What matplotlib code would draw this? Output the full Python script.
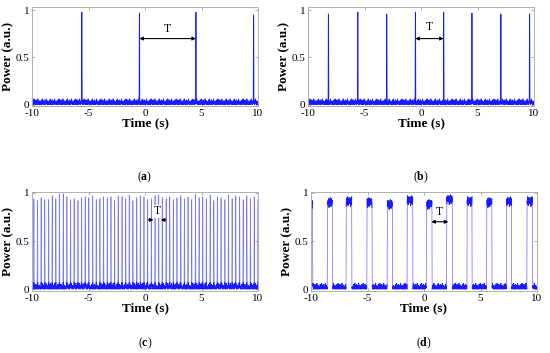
import numpy as np
import matplotlib.pyplot as plt

plt.rcParams['font.family'] = ['Liberation Serif', 'DejaVu Serif']
plt.rcParams['mathtext.fontset'] = 'custom'
plt.rcParams['mathtext.rm'] = 'Liberation Serif'
plt.rcParams['mathtext.bf'] = 'Liberation Serif:bold'
plt.rcParams['axes.unicode_minus'] = False

# time base of the recorded traces
t = np.arange(-10, 10.0001, 0.02)

# baseline noise (a.u.), repeated along the trace
floor_noise = [0.01, 0.03, 0.00, 0.02, 0.05, 0.01, 0.02, 0.00, 0.03, 0.06,
               0.01, 0.02, 0.04, 0.00, 0.01, 0.03, 0.02, 0.05, 0.00, 0.02,
               0.01, 0.04, 0.02, 0.00, 0.03, 0.01, 0.06, 0.02, 0.01, 0.03,
               0.00, 0.02, 0.04, 0.01, 0.02, 0.00, 0.03]
top_noise = [0.03, 0.07, 0.01, 0.05, 0.10, 0.02, 0.06, 0.04, 0.08, 0.00,
             0.05, 0.03, 0.09, 0.02, 0.06, 0.01, 0.07, 0.04, 0.03]

# (a) single pulses
a_times = [-5.6, -0.5, 4.5, 9.6]
a_peaks = [0.98, 0.97, 0.98, 0.95]

# (b) pulses at a shorter period
b_times = [-8.2, -5.6, -3.05, -0.5, 2.0, 4.5, 7.05, 9.6]
b_peaks = [0.96, 0.98, 0.96, 0.98, 0.98, 0.97, 0.96, 0.96]

# (c) dense pulse train
c_first = -9.85
c_period = 0.325
c_peaks = [0.94, 0.92, 0.95, 0.93, 0.93, 0.97, 0.94, 0.99, 0.99, 0.96,
           0.93, 0.94, 0.92, 0.95, 0.96, 0.95, 0.97, 0.93, 0.94, 0.96,
           0.95, 0.96, 0.92, 0.97, 0.96, 0.94, 0.98, 0.92, 0.95, 0.97,
           0.96, 0.93, 0.94, 0.97, 0.98, 0.95, 0.94, 0.96, 0.93, 0.95,
           0.97, 0.94, 0.96, 0.93, 0.99, 0.95, 0.96, 0.94, 0.98, 0.92,
           0.96, 0.95, 0.93, 0.98, 0.94, 0.97, 0.96, 0.93, 0.97, 0.94,
           0.96, 0.93]

# (d) square-wave trace: high intervals and their levels
d_starts = [-10.0, -8.55, -6.9, -5.05, -3.25, -1.5, 0.2, 2.0, 3.8, 5.55, 7.3, 9.1]
d_ends = [-9.85, -8.1, -6.4, -4.6, -2.8, -1.0, 0.7, 2.5, 4.25, 6.0, 7.75, 9.6]
d_levels = [0.94, 0.95, 0.96, 0.95, 0.93, 0.97, 0.93, 0.98, 0.96, 0.95, 0.96, 0.96]

# arrows marking the period T: (x start, x end, y, text x, text y)
arrows = {
    'a': (-0.5, 4.5, 0.7, 2.0, 0.8),
    'b': (-0.5, 2.0, 0.7, 0.75, 0.82),
    'c': (0.75, 1.4, 0.72, 1.07, 0.81),
    'd': (0.65, 2.15, 0.7, 1.4, 0.8),
}

n = len(t)
base = np.array([floor_noise[i % len(floor_noise)] for i in range(n)])


def pulse_trace(times, peaks):
    y = base.copy()
    for tp, pk in zip(times, peaks):
        i = int(np.argmin(np.abs(t - tp)))
        y[i] = pk
        y[i + 1] = pk
    return y


ya = pulse_trace(a_times, a_peaks)
yb = pulse_trace(b_times, b_peaks)
c_times = [c_first + k * c_period for k in range(len(c_peaks))]
yc = pulse_trace(c_times, c_peaks)
yd = base.copy()
for s, e, lv in zip(d_starts, d_ends, d_levels):
    m = (t >= s) & (t <= e)
    idx = np.where(m)[0]
    yd[idx] = [lv - top_noise[k % len(top_noise)] for k in idx]

fig = plt.figure(figsize=(5.5, 3.53), dpi=100)
W, H = 550.0, 353.0
boxes = {
    'a': (32, 7, 258, 106),
    'b': (308, 7, 534, 106),
    'c': (32, 192, 258, 291),
    'd': (311, 192, 537, 291),
}
traces = {'a': ya, 'b': yb, 'c': yc, 'd': yd}
ylims = {'a': (-0.015, 1.035), 'b': (-0.015, 1.035),
         'c': (-0.02, 1.01), 'd': (-0.02, 1.01)}

for key in ['a', 'b', 'c', 'd']:
    x0, y0, x1, y1 = boxes[key]
    ax = fig.add_axes([x0 / W, 1 - y1 / H, (x1 - x0) / W, (y1 - y0) / H])
    y = traces[key]
    if key == 'c':
        # thin pulses render pale; the noise floor stays dark
        ax.plot(t, y, color='#7a7aff', lw=0.5)
        ax.plot(t, np.minimum(y, 0.07), color='#1a1aff', lw=0.6)
    elif key == 'd':
        ax.plot(t, y, color='#6a6aff', lw=0.5)
        hi = np.where(y > 0.5, y, np.nan)
        lo = np.where(y < 0.5, y, np.nan)
        ax.plot(t, hi, color='#1a1aff', lw=0.7)
        ax.plot(t, lo, color='#1a1aff', lw=0.6)
    else:
        ax.plot(t, y, color='#1a1aff', lw=0.6)
    ax.set_xlim(-10, 10)
    ax.set_ylim(*ylims[key])
    ax.set_xticks([-10, -5, 0, 5, 10])
    ax.set_yticks([0, 0.5, 1])
    ax.set_yticklabels(['0', '0.5', '1'])
    ax.tick_params(direction='in', length=2.5, width=0.6, color='#a0a0a0',
                   labelsize=8, top=True, right=True, pad=2)
    for sp in ax.spines.values():
        sp.set_color('#b0b0b0')
        sp.set_linewidth(0.7)
    ax.set_xlabel('Time (s)', fontsize=9.5, fontweight='bold', labelpad=0)
    ax.set_ylabel('Power (a.u.)', fontsize=9.5, fontweight='bold', labelpad=1)

    xs, xe, ya_, tx, ty = arrows[key]
    if key == 'c':
        ax.annotate('', xy=(xs, ya_), xytext=(xs - 0.45, ya_),
                    arrowprops=dict(arrowstyle='-|>', color='black', lw=0.8,
                                    mutation_scale=5, shrinkA=0, shrinkB=0))
        ax.annotate('', xy=(xe, ya_), xytext=(xe + 0.45, ya_),
                    arrowprops=dict(arrowstyle='-|>', color='black', lw=0.8,
                                    mutation_scale=5, shrinkA=0, shrinkB=0))
    else:
        ax.annotate('', xy=(xs, ya_), xytext=(xe, ya_),
                    arrowprops=dict(arrowstyle='<|-|>', color='black', lw=0.8,
                                    mutation_scale=5, shrinkA=0, shrinkB=0))
    ax.text(tx, ty, 'T', fontsize=8.5, ha='center', va='center',
            bbox=dict(facecolor='white', edgecolor='none', pad=0.5))

    cx = (x0 + x1) / 2 / W
    ly = 177 if key in ('a', 'b') else 343
    fig.text(cx, 1 - ly / H, '($\\mathbf{%s}$)' % key, fontsize=8.5,
             ha='center', va='center')

fig.savefig('out.png', dpi=100)
